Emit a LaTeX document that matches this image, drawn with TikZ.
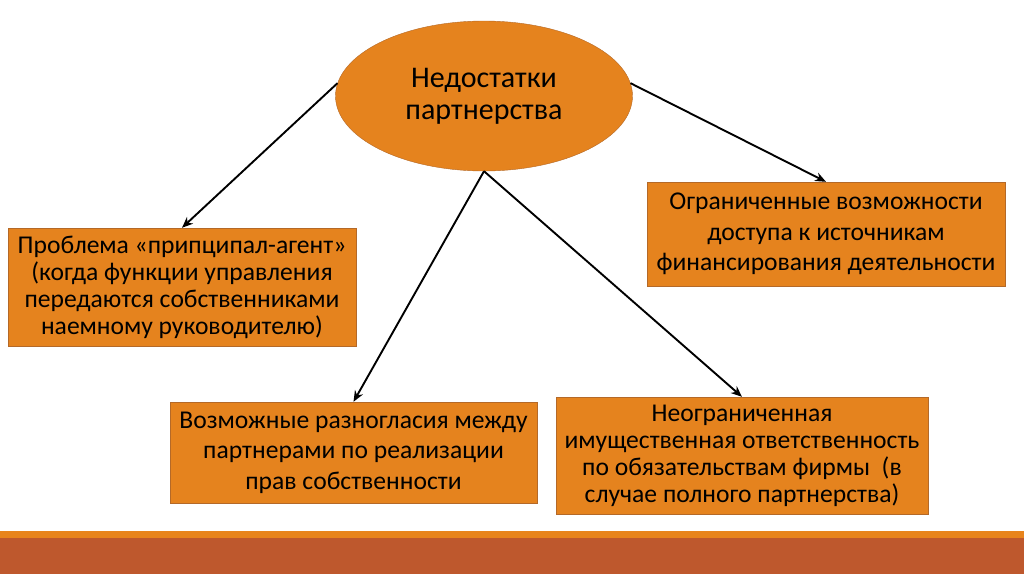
\documentclass[tikz,border=0pt]{standalone}
\usepackage{fontspec}
\setmainfont{Carlito}
\usetikzlibrary{shapes.geometric,arrows.meta}
\definecolor{boxfill}{RGB}{229,131,30}
\definecolor{boxline}{RGB}{180,105,40}
\definecolor{bandred}{RGB}{190,88,45}
\definecolor{bandorange}{RGB}{232,132,28}
\tikzset{
    topic/.style={ellipse, draw=boxline, fill=boxfill, minimum width=297, minimum height=150, align=center, font=\fontsize{30}{32}\selectfont},
    flaw/.style={draw=boxline, fill=boxfill, align=center, inner sep=0pt, font=\fontsize{25.6}{27}\selectfont},
    wideflaw/.style={flaw, font=\fontsize{25.6}{30.5}\selectfont},
    arr/.style={-{Stealth[length=11pt,width=9pt]}, line width=1.9pt}
}

\begin{document}
\begin{tikzpicture}[x=1pt,y=-1pt]
    \useasboundingbox (0,0) rectangle (1024,574);
    % bottom band
    \fill[bandorange] (0,531) rectangle (1024,538);
    \fill[bandred] (0,538) rectangle (1024,574);

    \node[topic] (ell) at (484,96) {Недостатки\\партнерства};

    \node[flaw, minimum width=348, minimum height=118] (agent) at (182,287) {Проблема «припципал-агент»\\(когда функции управления\\передаются собственниками\\наемному руководителю)};
    \node[wideflaw, minimum width=358, minimum height=104] (finance) at (826,234) {Ограниченные возможности\\доступа к источникам\\финансирования деятельности};
    \node[wideflaw, minimum width=367, minimum height=101] (rights) at (353.5,452.5) {Возможные разногласия между\\партнерами по реализации\\прав собственности};
    \node[flaw, minimum width=372, minimum height=117] (liab) at (742,455.5) {Неограниченная\\имущественная ответственность\\по обязательствам фирмы \ (в\\случае полного партнерства)};

    \draw[arr] (ell.175) -- (agent.north);
    \draw[arr] (ell.5) -- (finance.north);
    \draw[arr] (ell.south) -- (rights.north);
    \draw[arr] (ell.south) -- (liab.north);
\end{tikzpicture}
\end{document}
